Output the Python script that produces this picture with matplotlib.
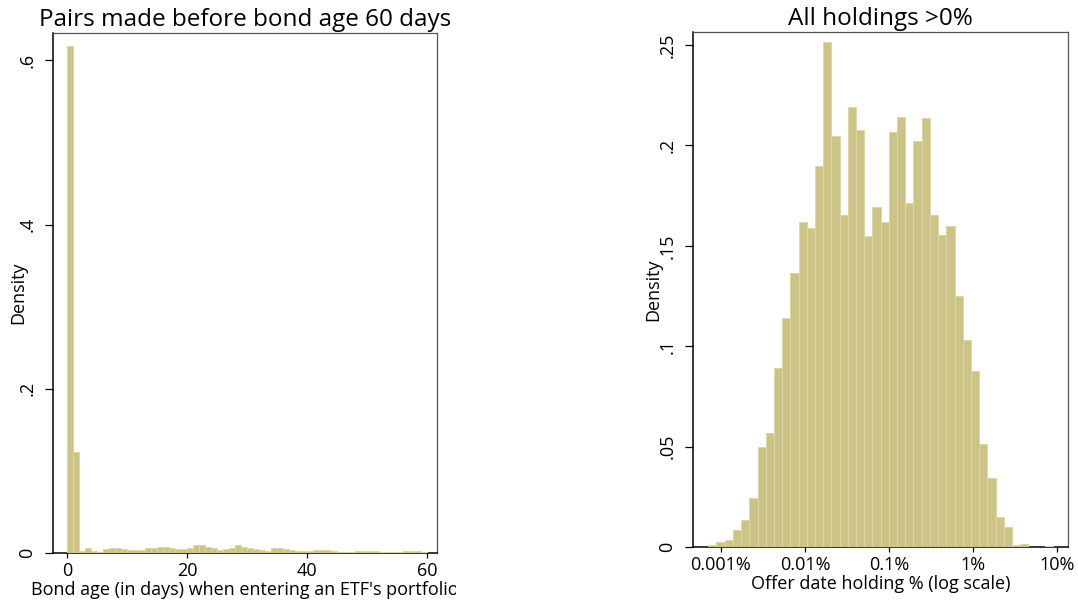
import matplotlib
matplotlib.use("Agg")
import matplotlib.pyplot as plt
from matplotlib.transforms import Bbox
import numpy as np

plt.rcParams['font.family'] = ['Open Sans', 'DejaVu Sans']

# ---------------- data ----------------
# Left panel: bond age (days) histogram, 1-day bins from 0 to 60
age_bin_left = list(range(0, 60))
age_density = [0.618, 0.123, 0.0024, 0.0065, 0.0024, 0.0012, 0.0045, 0.0057, 0.0057, 0.0045,
               0.0041, 0.0033, 0.0041, 0.0057, 0.0065, 0.0073, 0.0073, 0.0057, 0.0045, 0.0045,
               0.0057, 0.0098, 0.0098, 0.0073, 0.0065, 0.0033, 0.0045, 0.0065, 0.0094, 0.0073,
               0.0065, 0.0045, 0.0033, 0.0024, 0.0057, 0.0065, 0.0053, 0.0037, 0.0024, 0.0024,
               0.0024, 0.0033, 0.0037, 0.0037, 0.0024, 0.0012, 0.0012, 0.0012, 0.0024, 0.0024,
               0.0024, 0.0024, 0.0012, 0.0008, 0.0008, 0.0008, 0.0024, 0.0024, 0.0024, 0.0016]
age_ticks = [0, 20, 40, 60]
age_density_ticks = [0, 0.2, 0.4, 0.6]
age_density_ticklabels = ['0', '.2', '.4', '.6']

# Right panel: offer-date holding % (log10 scale) histogram
holding_bin_start_log10 = -3.151
holding_bin_width_log10 = 0.0977
holding_density = [0.0010, 0.0027, 0.0033, 0.0085, 0.0135, 0.0246, 0.0497, 0.0567, 0.0894, 0.1140,
                   0.1364, 0.1617, 0.1590, 0.1900, 0.2514, 0.2049, 0.1654, 0.2192, 0.2079, 0.1550,
                   0.1695, 0.1620, 0.2069, 0.2140, 0.1713, 0.2024, 0.2137, 0.1654, 0.1552, 0.1599,
                   0.1248, 0.1032, 0.0879, 0.0513, 0.0346, 0.0148, 0.0098, 0.0010, 0.0017, 0.0,
                   0.0, 0.0005]
holding_ticks_log10 = [-3, -2, -1, 0, 1]
holding_ticklabels = ['0.001%', '0.01%', '0.1%', '1%', '10%']
holding_density_ticks = [0, 0.05, 0.10, 0.15, 0.20, 0.25]
holding_density_ticklabels = ['0', '.05', '.1', '.15', '.2', '.25']

BAR_FILL = '#CBC486'
BAR_EDGE = '#DDD7A7'

W, H = 1078, 607
fig = plt.figure(figsize=(W / 100, H / 100), dpi=100)


def px_axes(l, t, r, b):
    return fig.add_axes([l / W, 1 - b / H, (r - l) / W, (b - t) / H])


def style(ax):
    for s in ['left', 'bottom']:
        ax.spines[s].set_color('black')
        ax.spines[s].set_linewidth(1.1)
    for s in ['top', 'right']:
        ax.spines[s].set_color('#555555')
        ax.spines[s].set_linewidth(0.9)
    ax.tick_params(axis='y', length=6, width=0.9, labelsize=13, pad=6, labelrotation=90)
    ax.tick_params(axis='x', length=3.5, width=0.9, labelsize=13, pad=3)
    for lab in ax.get_yticklabels():
        lab.set_va('center')


# ---------------- left panel ----------------
ax1 = px_axes(53, 33, 437, 553)
ax1.bar(age_bin_left, age_density, width=1, align='edge', color=BAR_FILL,
        edgecolor=BAR_EDGE, linewidth=0.7, zorder=3)
ax1.set_xlim(-2.33, 61.67)
ax1.set_ylim(0, 0.6335)
ax1.set_xticks(age_ticks)
ax1.set_yticks(age_density_ticks)
ax1.set_yticklabels(age_density_ticklabels)
style(ax1)
ax1.set_title('Pairs made before bond age 60 days', fontsize=17.5, pad=5)
ax1.set_ylabel('Density', fontsize=13, labelpad=-6.5)
xl = ax1.set_xlabel("Bond age (in days) when entering an ETF's portfolio", fontsize=13, labelpad=1)
xl.set_clip_box(Bbox([[0, 0], [456, H]]))
xl.set_clip_on(True)

# ---------------- right panel ----------------
ax2 = px_axes(693, 32, 1068, 547)
holding_left = [holding_bin_start_log10 + i * holding_bin_width_log10
                for i in range(len(holding_density))]
ax2.bar(holding_left, holding_density, width=holding_bin_width_log10, align='edge',
        color=BAR_FILL, edgecolor=BAR_EDGE, linewidth=0.7, zorder=3)
ax2.set_xlim(-3.333, 1.131)
ax2.set_ylim(0, 0.2565)
ax2.set_xticks(holding_ticks_log10)
ax2.set_xticklabels(holding_ticklabels)
ax2.set_yticks(holding_density_ticks)
ax2.set_yticklabels(holding_density_ticklabels)
style(ax2)
ax2.set_title('All holdings >0%', fontsize=17.5, pad=5)
ax2.set_ylabel('Density', fontsize=13, labelpad=-2.5)
ax2.set_xlabel('Offer date holding % (log scale)', fontsize=13, labelpad=1)

fig.savefig('out.png', dpi=100)
